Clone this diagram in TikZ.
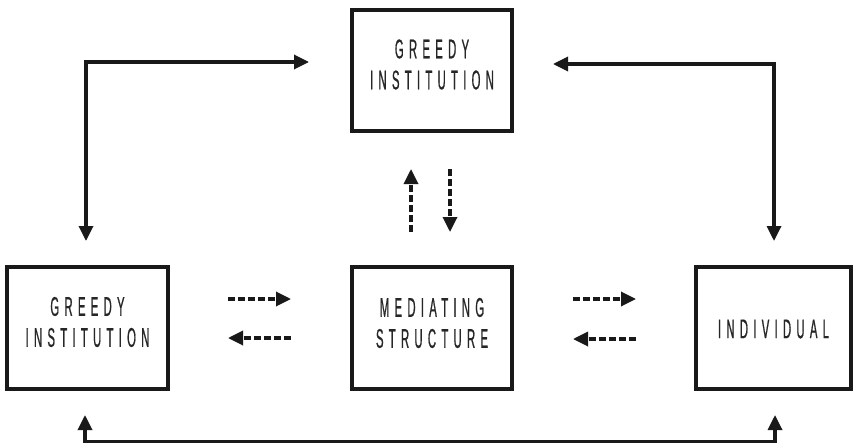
\documentclass[tikz,border=0pt]{standalone}
\usepackage{fontspec}
\setmainfont{Liberation Sans}
\newfontfamily\condfont[FakeStretch=0.42,LetterSpace=19.5,FakeBold=0.6]{Liberation Sans}
\usetikzlibrary{arrows.meta}
\tikzset{
  box/.style={draw=black!90,line width=3.3pt,minimum height=122pt,inner sep=0pt},
  lbl/.style={font=\condfont\fontsize{27}{31}\selectfont,align=center,text=black!85,inner sep=0pt},
  link/.style={draw=black!90,line width=3.3pt,{Triangle[length=15pt,width=14pt]}-{Triangle[length=15pt,width=14pt]}},
  dlink/.style={draw=black!90,line width=3.3pt,dash pattern=on 6.7pt off 3.3pt,-{Triangle[length=15pt,width=14pt]}}
}
\begin{document}
\begin{tikzpicture}[x=1pt,y=-1pt]
\useasboundingbox (0,0) rectangle (856,444);
% boxes
\node[box,minimum width=160pt,minimum height=121pt] (top) at (432,70.5) {};
\node[box,minimum width=161pt] (left) at (87.5,328) {};
\node[box,minimum width=160pt] (mid) at (432,328) {};
\node[box,minimum width=155pt] (right) at (773.5,328) {};
% labels
\node[lbl] (topT) at ([yshift=6pt]top.center) {GREEDY\\INSTITUTION};
\node[lbl] (leftT) at ([yshift=6pt]left.center) {GREEDY\\INSTITUTION};
\node[lbl] (midT) at ([yshift=5pt]mid.center) {MEDIATING\\STRUCTURE};
\node[lbl] (rightT) at ([yshift=-1pt]right.center) {INDIVIDUAL};
% solid connectors
\coordinate (a1) at (86,241);
\coordinate (a2) at (309,62);
\draw[link] (a1) |- (a2);
\coordinate (b1) at (553,64);
\coordinate (b2) at (774,241);
\draw[link] (b1) -| (b2);
\coordinate (c1) at (85,415);
\coordinate (c0) at (85,441.5);
\coordinate (c2) at (775,415);
\draw[link] (c1) -- (c0) -| (c2);
% dashed connectors
\coordinate (u1) at (411,232); \coordinate (u2) at (411,169);
\draw[dlink] (u1) -- (u2);
\coordinate (d1) at (450,169); \coordinate (d2) at (450,232);
\draw[dlink] (d1) -- (d2);
\coordinate (l1) at (228,299); \coordinate (l2) at (291,299);
\draw[dlink] (l1) -- (l2);
\coordinate (l3) at (291,338); \coordinate (l4) at (228,338);
\draw[dlink] (l3) -- (l4);
\coordinate (r1) at (573,299); \coordinate (r2) at (636,299);
\draw[dlink] (r1) -- (r2);
\coordinate (r3) at (636,339); \coordinate (r4) at (573,339);
\draw[dlink] (r3) -- (r4);
\end{tikzpicture}
\end{document}
